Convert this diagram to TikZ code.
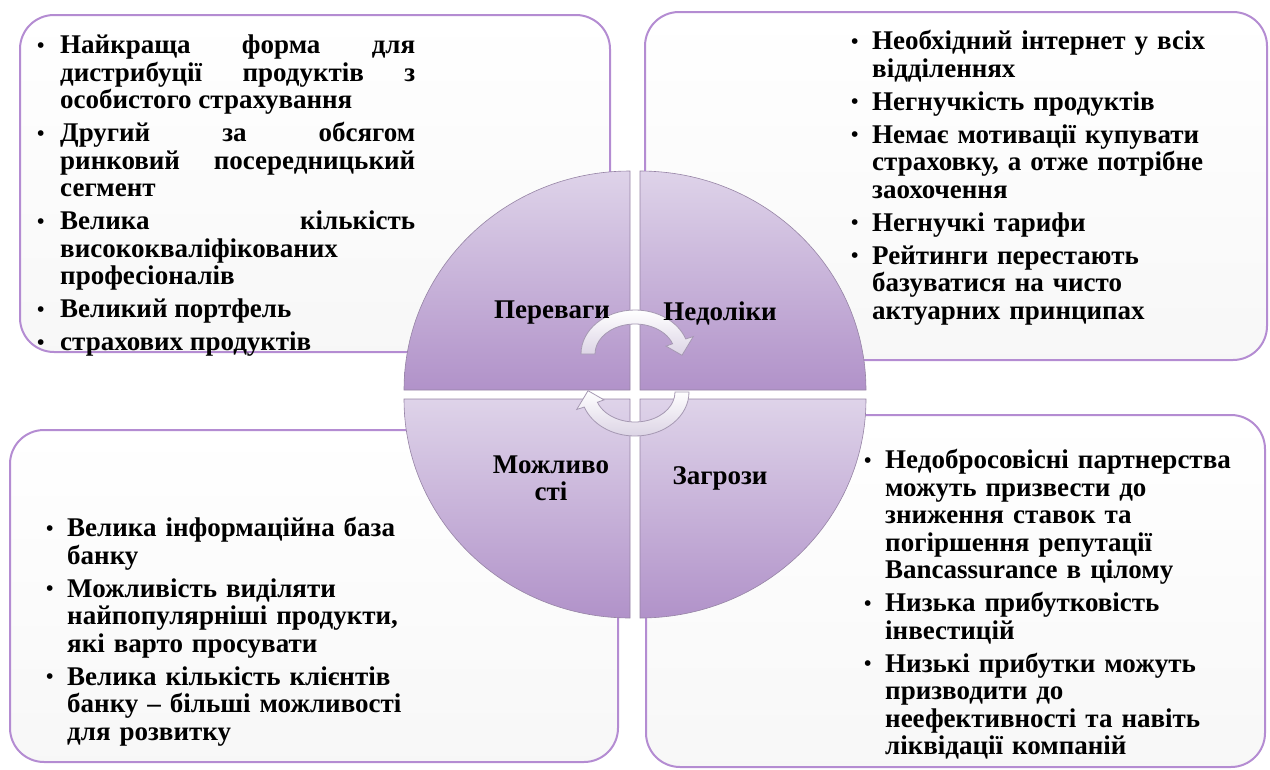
\documentclass[tikz,border=0pt]{standalone}
\usepackage{fontspec}
\setmainfont{Liberation Serif}
\usetikzlibrary{positioning}
\definecolor{boxline}{RGB}{180,140,210}
\definecolor{segtop}{RGB}{222,211,233}
\definecolor{segbot}{RGB}{177,146,201}
\definecolor{segline}{RGB}{150,132,165}
\definecolor{arrline}{RGB}{165,152,178}
\definecolor{arrbot}{RGB}{220,212,229}
\newlength\hang
\newcommand\itm[1]{\hangindent=\hang\hangafter=1\noindent\makebox[\hang][l]{\hspace{2pt}\raisebox{1.5pt}{\fontsize{21}{21}\selectfont•}}#1\par}
\tikzset{
    x=1pt, y=-1pt, % one unit = one pixel of the slide, y downwards
    panel/.style={draw=boxline, line width=2pt, rounded corners=34pt, top color=white, bottom color=gray!6}, % corner boxes
    seg/.style={draw=segline, line width=0.6pt, top color=segtop, bottom color=segbot}, % quarters of the circle
    turn/.style={draw=arrline, line width=0.8pt, top color=white, bottom color=arrbot}, % round arrows in the middle
    lbl/.style={font=\fontsize{27}{27}\selectfont\bfseries, align=center}, % quarter titles
    txt/.style={font=\fontsize{27}{27.5}\selectfont\bfseries\setlength\parskip{5.5pt}, anchor=north west, inner sep=0pt}, % bullet lists
}
\begin{document}
\begin{tikzpicture}
\useasboundingbox (0,0) rectangle (1270,769);
\draw[panel] (20,15) rectangle (610,352);
\draw[panel] (645,12) rectangle (1267,360);
\draw[panel] (10,430) rectangle (618,762);
\draw[panel] (646,415) rectangle (1265,767);
% the circle
\foreach \cx/\cy/\a/\b in {630/390/180/90, 640/390/0/90, 630/399/180/270, 640/399/0/-90}
    \draw[seg] (\cx,\cy) -- ++(\a:226pt and 219pt) arc[start angle=\a, end angle=\b, x radius=226pt, y radius=219pt] -- cycle;
\foreach \cy/\r in {354/0, 392/180}
    \draw[turn, shift={(635,\cy)}, rotate=\r] (180:54pt and 44pt) arc[start angle=180, end angle=20, x radius=54pt, y radius=44pt]
        -- (20:62pt and 51pt) -- (-2:47pt and 37pt) -- (20:33pt and 23pt)
        -- (20:40pt and 30pt) arc[start angle=20, end angle=180, x radius=40pt, y radius=30pt] -- cycle;
\node[lbl] (plus) at (552,313) {Переваги};
\node[lbl] (minus) at (720,313) {Недоліки};
\node[lbl] (chance) at (551,478) {Можливо\\сті};
\node[lbl] (risk) at (720,478) {Загрози};
% lists
\node[txt, text width=380pt, align=justify] (plustxt) at (35,35) {\setlength\hang{25pt}%
    \itm{Найкраща форма для\linebreak дистрибуції продуктів з\linebreak особистого страхування}
    \itm{Другий за обсягом\linebreak ринковий посередницький\linebreak сегмент}
    \itm{Велика кількість\linebreak висококваліфікованих\linebreak професіоналів}
    \itm{Великий портфель}
    \itm{страхових продуктів}};
\node[txt, text width=400pt, align=left] (minustxt) at (849,30) {\setlength\hang{23pt}%
    \itm{Необхідний інтернет у всіх\linebreak відділеннях}
    \itm{Негнучкість продуктів}
    \itm{Немає мотивації купувати\linebreak страховку, а отже потрібне\linebreak заохочення}
    \itm{Негнучкі тарифи}
    \itm{Рейтинги перестають\linebreak базуватися на чисто\linebreak актуарних принципах}};
\node[txt, text width=400pt, align=left] (chancetxt) at (44,517) {\setlength\hang{23pt}%
    \itm{Велика інформаційна база\linebreak банку}
    \itm{Можливість виділяти\linebreak найпопулярніші продукти,\linebreak які варто просувати}
    \itm{Велика кількість клієнтів\linebreak банку – більші можливості\linebreak для розвитку}};
\node[txt, text width=400pt, align=left] (risktxt) at (862,449) {\setlength\hang{23pt}%
    \itm{Недобросовісні партнерства\linebreak можуть призвести до\linebreak зниження ставок та\linebreak погіршення репутації\linebreak Bancassurance в цілому}
    \itm{Низька прибутковість\linebreak інвестицій}
    \itm{Низькі прибутки можуть\linebreak призводити до\linebreak неефективності та навіть\linebreak ліквідації компаній}};
\end{tikzpicture}
\end{document}
